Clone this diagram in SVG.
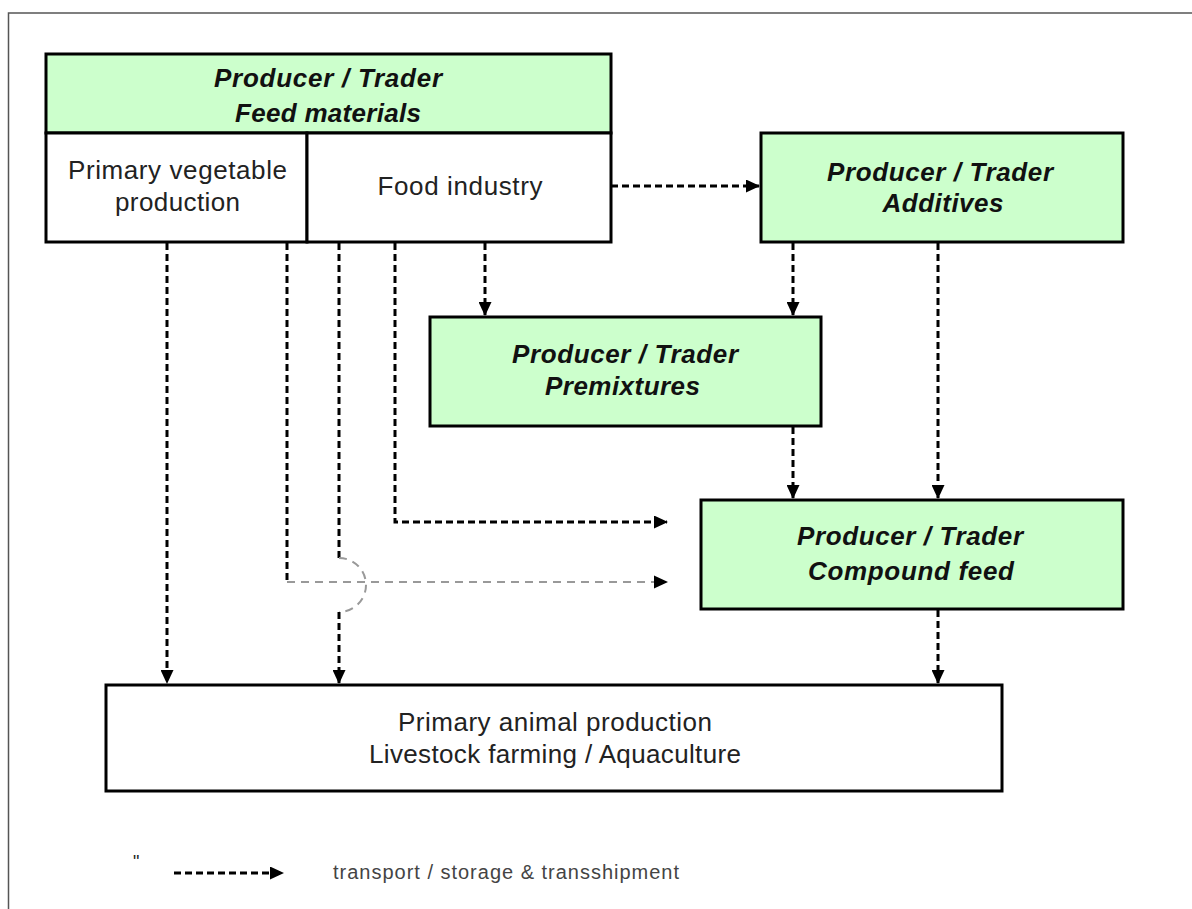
<svg xmlns="http://www.w3.org/2000/svg" width="1192" height="909" viewBox="0 0 1192 909">
  <defs>
    <marker id="arr" viewBox="0 0 14 13" refX="13" refY="6.5" markerWidth="14" markerHeight="13" markerUnits="userSpaceOnUse" orient="auto">
      <path d="M0,0 L14,6.5 L0,13 Z" fill="#000"/>
    </marker>
    <style>
      .box { stroke: #000; stroke-width: 3; }
      .g { fill: #ccffcc; }
      .w { fill: #fff; }
      .hd { font-family: "Liberation Sans", Arial, sans-serif; font-weight: bold; font-style: italic; font-size: 26px; fill: #111; text-anchor: middle; }
      .tx { font-family: "Liberation Sans", Arial, sans-serif; font-size: 26px; fill: #222; text-anchor: middle; }
      .c { fill: none; stroke: #000; stroke-width: 3; stroke-dasharray: 7 4; }
      .gr { fill: none; stroke: #999; stroke-width: 2; stroke-dasharray: 8 6; }
    </style>
  </defs>
  <rect width="1192" height="909" fill="#fff"/>
  <path d="M1192,13 H8.5 V909" fill="none" stroke="#555" stroke-width="1.5"/>

  <g id="connectors">
    <path class="c" d="M611,186 H759" marker-end="url(#arr)"/>
    <path class="c" d="M167,243 V683" marker-end="url(#arr)"/>
    <path class="c" d="M287,243 V582"/>
    <path class="gr" d="M287,582 H660"/>
    <path d="M654,575.5 L668,582 L654,588.5 Z" fill="#000"/>
    <path class="c" d="M339,243 V558"/>
    <path class="gr" d="M339,558 A27,27 0 0 1 339,612"/>
    <path class="c" d="M339,612 V683" marker-end="url(#arr)"/>
    <path class="c" d="M395,243 V522 H667" marker-end="url(#arr)"/>
    <path class="c" d="M485,243 V315" marker-end="url(#arr)"/>
    <path class="c" d="M793,243 V315" marker-end="url(#arr)"/>
    <path class="c" d="M938,243 V498" marker-end="url(#arr)"/>
    <path class="c" d="M793,427 V498" marker-end="url(#arr)"/>
    <path class="c" d="M938,610 V683" marker-end="url(#arr)"/>
  </g>

  <g id="feed-materials">
    <rect class="box g" x="46" y="54" width="565" height="79"/>
    <text class="hd" x="328" y="87" textLength="228">Producer / Trader</text>
    <text class="hd" x="328" y="122" textLength="186">Feed materials</text>
    <rect class="box w" x="46" y="133" width="261" height="109"/>
    <text class="tx" x="177.5" y="179" textLength="219">Primary vegetable</text>
    <text class="tx" x="177.5" y="211" textLength="125">production</text>
    <rect class="box w" x="307" y="133" width="304" height="109"/>
    <text class="tx" x="460" y="195" textLength="165">Food industry</text>
  </g>

  <g id="additives">
    <rect class="box g" x="761" y="133" width="362" height="109"/>
    <text class="hd" x="940" y="181" textLength="226">Producer / Trader</text>
    <text class="hd" x="943" y="212" textLength="121">Additives</text>
  </g>

  <g id="premixtures">
    <rect class="box g" x="430" y="317" width="391" height="109"/>
    <text class="hd" x="625" y="363" textLength="226">Producer / Trader</text>
    <text class="hd" x="622.5" y="395" textLength="155">Premixtures</text>
  </g>

  <g id="compound-feed">
    <rect class="box g" x="701" y="500" width="422" height="109"/>
    <text class="hd" x="910" y="545" textLength="226">Producer / Trader</text>
    <text class="hd" x="911" y="580" textLength="206">Compound feed</text>
  </g>

  <g id="animal-production">
    <rect class="box w" x="106" y="685" width="896" height="106"/>
    <text class="tx" x="555" y="731" textLength="314">Primary animal production</text>
    <text class="tx" x="555" y="763" textLength="372">Livestock farming / Aquaculture</text>
  </g>

  <g id="legend">
    <text x="133" y="868" font-family="Liberation Sans, Arial, sans-serif" font-size="18" fill="#222">"</text>
    <path class="c" d="M174,873 H283" stroke-dasharray="5 4" marker-end="url(#arr)"/>
    <text x="333" y="879" font-family="Liberation Sans, Arial, sans-serif" font-size="20" fill="#444" textLength="346">transport / storage &amp; transshipment</text>
  </g>
</svg>
